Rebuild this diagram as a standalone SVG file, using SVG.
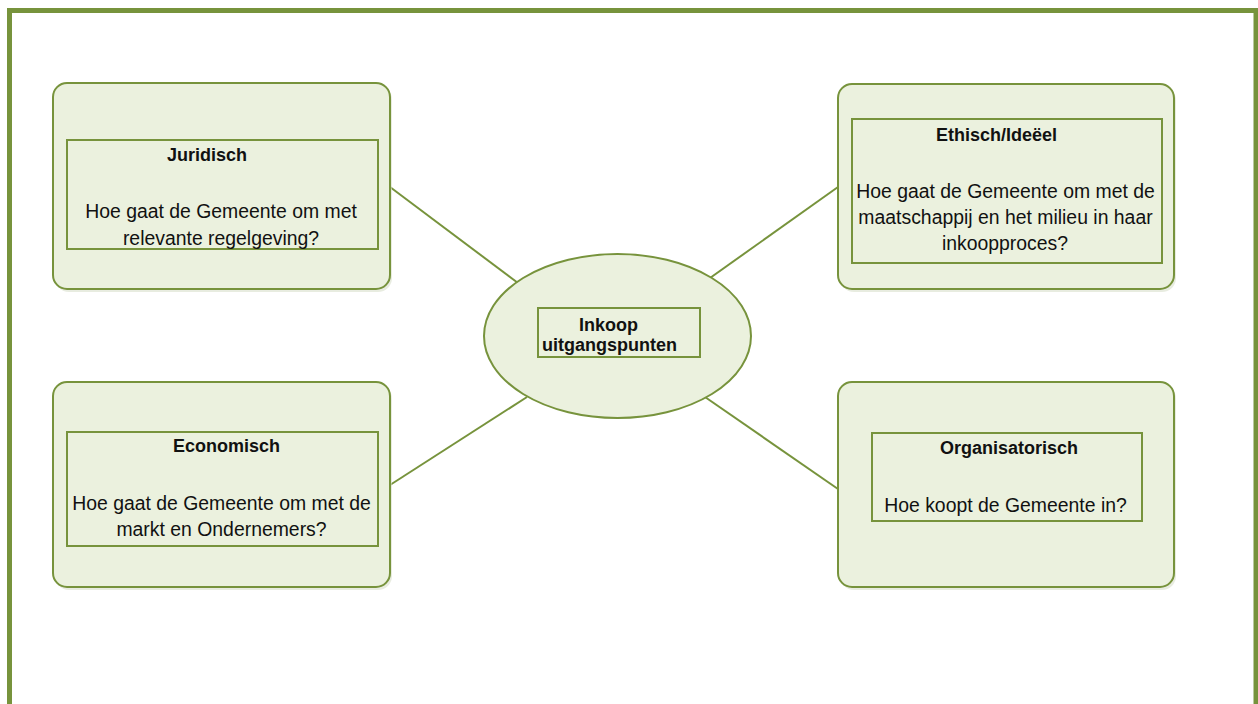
<svg xmlns="http://www.w3.org/2000/svg" width="1258" height="704" viewBox="0 0 1258 704">
<style>
.frame{fill:none;stroke:#77933C;stroke-width:5}
.outer{fill:#EBF1DE;stroke:#77933C;stroke-width:2}
.inner{fill:#EBF1DE;stroke:#77933C;stroke-width:2}
.shadow{fill:#D9DFCB;opacity:0.6}
.conn{stroke:#77933C;stroke-width:2;fill:none}
text{font-family:"Liberation Sans",Arial,sans-serif;fill:#111;text-anchor:middle}
.t{font-weight:bold;font-size:18px}
.b{font-size:19.4px}
</style>
<rect width="1258" height="704" fill="#fff"/>
<rect class="frame" x="9.5" y="10.5" width="1246.5" height="720"/>
<g id="connectors">
<line class="conn" x1="390" y1="187" x2="518" y2="283"/>
<line class="conn" x1="710" y1="278" x2="838" y2="187"/>
<line class="conn" x1="390" y1="485" x2="527" y2="397"/>
<line class="conn" x1="705" y1="397" x2="838" y2="489"/>
</g>
<g id="juridisch">
<rect class="shadow" x="55" y="86" width="337" height="206" rx="14"/>
<rect class="outer" x="53" y="83" width="337" height="206" rx="14"/>
<rect class="inner" x="67" y="140" width="311" height="109"/>
<text class="t" x="207" y="161">Juridisch</text>
<text class="b" x="221" y="218">Hoe gaat de Gemeente om met</text>
<text class="b" x="221" y="245">relevante regelgeving?</text>
</g>
<g id="ethisch">
<rect class="shadow" x="840" y="87" width="336" height="205" rx="14"/>
<rect class="outer" x="838" y="84" width="336" height="205" rx="14"/>
<rect class="inner" x="852" y="119" width="310" height="144"/>
<text class="t" x="996.5" y="141">Ethisch/Ideëel</text>
<text class="b" x="1005.5" y="198">Hoe gaat de Gemeente om met de</text>
<text class="b" x="1005.5" y="224">maatschappij en het milieu in haar</text>
<text class="b" x="1005" y="250">inkoopproces?</text>
</g>
<g id="economisch">
<rect class="shadow" x="55" y="385" width="337" height="205" rx="14"/>
<rect class="outer" x="53" y="382" width="337" height="205" rx="14"/>
<rect class="inner" x="67" y="432" width="311" height="114"/>
<text class="t" x="226.5" y="452">Economisch</text>
<text class="b" x="221.5" y="510">Hoe gaat de Gemeente om met de</text>
<text class="b" x="221.5" y="536">markt en Ondernemers?</text>
</g>
<g id="organisatorisch">
<rect class="shadow" x="840" y="385" width="336" height="205" rx="14"/>
<rect class="outer" x="838" y="382" width="336" height="205" rx="14"/>
<rect class="inner" x="872" y="433" width="270" height="88"/>
<text class="t" x="1009" y="454">Organisatorisch</text>
<text class="b" x="1005.5" y="512">Hoe koopt de Gemeente in?</text>
</g>
<g id="inkoop">
<ellipse class="outer" cx="617.5" cy="336" rx="133.5" ry="82"/>
<rect class="inner" x="538" y="308" width="162" height="49"/>
<text class="t" x="608.5" y="331">Inkoop</text>
<text class="t" x="609.5" y="351">uitgangspunten</text>
</g>
</svg>
